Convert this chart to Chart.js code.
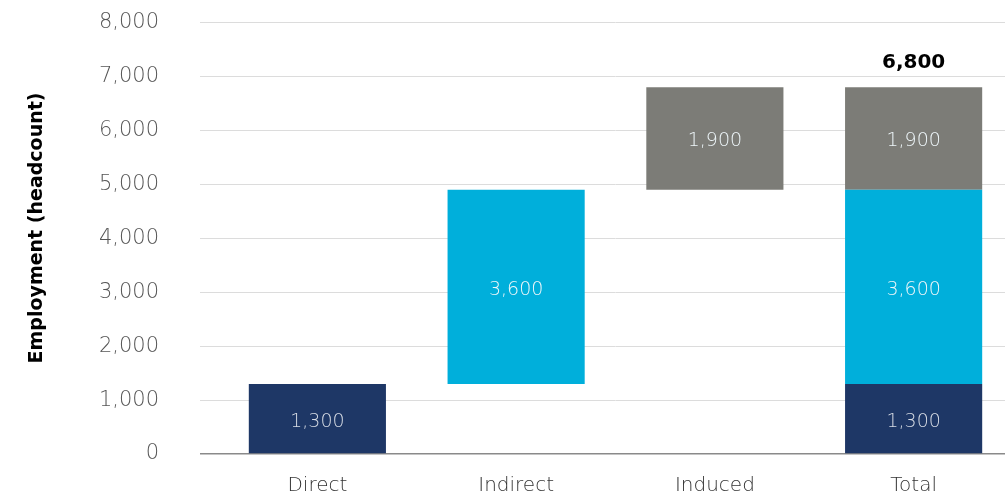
<!DOCTYPE html>
<html>
<head>
<meta charset="utf-8">
<script src="https://cdn.jsdelivr.net/npm/chart.js@4"></script>
<style>
    html, body { margin: 0; padding: 0; background: #fff; overflow: hidden; }
    #wrap { width: 1013px; height: 497px; }
</style>
</head>
<body>
<div id="wrap"><canvas id="impact-chart" width="1013" height="497"></canvas></div>
<script>
const categories = ['Direct', 'Indirect', 'Induced', 'Total'];
const directValues = [1300, null, null, 1300];
const indirectValues = [null, 3600, null, 3600];
const inducedValues = [null, null, 1900, 1900];
const totalValue = 6800;
const yTicks = [0, 1000, 2000, 3000, 4000, 5000, 6000, 7000, 8000];

const colors = {
    direct: '#1e3766',
    indirect: '#00afdb',
    induced: '#7c7c77'
};

const lightFont = 'DejaVu Sans';
const boldFont = 'DejaVu Sans';

const fmt = v => v.toLocaleString('en-US');

// floating bars: each segment starts where the previous one ended
function toRanges(values, starts) {
    return values.map((v, i) => v == null ? null : [starts[i], starts[i] + v]);
}
const zeros = categories.map(() => 0);
const indirectStarts = categories.map(() => directValues[3]);
const inducedStarts = categories.map(() => directValues[3] + indirectValues[3]);

const barLabels = {
    id: 'barLabels',
    afterDatasetsDraw(chart) {
        const ctx = chart.ctx;
        ctx.save();
        ctx.textAlign = 'center';
        ctx.textBaseline = 'middle';
        ctx.font = `200 19px "${lightFont}"`;
        chart.data.datasets.forEach((ds, di) => {
            const meta = chart.getDatasetMeta(di);
            meta.data.forEach((bar, i) => {
                const raw = ds.raw[i];
                if (raw == null) return;
                ctx.fillStyle = di === 0 ? '#d6dbe4' : '#eef6f9';
                ctx.fillText(fmt(raw), bar.x, (bar.y + bar.base) / 2 + 3);
            });
        });
        // total above the last bar
        const topMeta = chart.getDatasetMeta(2);
        const last = topMeta.data[categories.length - 1];
        ctx.font = `bold 20px "${boldFont}"`;
        ctx.fillStyle = '#000';
        ctx.fillText(fmt(totalValue), last.x, last.y - 24);

        // y axis title
        ctx.translate(37, 228);
        ctx.rotate(-Math.PI / 2);
        ctx.font = `bold 19px "${boldFont}"`;
        ctx.fillStyle = '#000';
        ctx.fillText('Employment (headcount)', 0, 0);
        ctx.restore();
    }
};

new Chart(document.getElementById('impact-chart'), {
    type: 'bar',
    data: {
        labels: categories,
        datasets: [
            { label: 'Direct', raw: directValues, data: toRanges(directValues, zeros), backgroundColor: colors.direct },
            { label: 'Indirect', raw: indirectValues, data: toRanges(indirectValues, indirectStarts), backgroundColor: colors.indirect },
            { label: 'Induced', raw: inducedValues, data: toRanges(inducedValues, inducedStarts), backgroundColor: colors.induced }
        ]
    },
    options: {
        responsive: false,
        animation: false,
        devicePixelRatio: 1,
        grouped: false,
        skipNull: true,
        categoryPercentage: 1,
        barPercentage: 0.69,
        layout: { padding: { top: 22.5, right: 0, left: 0, bottom: 0 } },
        plugins: {
            legend: { display: false },
            tooltip: { enabled: false }
        },
        scales: {
            x: {
                afterFit(scale) { scale.height = 43; },
                grid: { display: false },
                border: { display: false },
                ticks: {
                    color: '#333333',
                    font: { family: lightFont, size: 20, weight: '200' },
                    padding: 12
                }
            },
            y: {
                min: 0,
                max: 8000,
                afterFit(scale) {
                    scale.width = 218;
                    scale.paddingTop = 0;
                    scale.paddingBottom = 0;
                },
                afterBuildTicks(scale) { scale.ticks = yTicks.map(v => ({ value: v })); },
                border: { display: false },
                grid: {
                    color: c => c.tick && c.tick.value === 0 ? '#8a8a8a' : '#dcdcdc',
                    lineWidth: c => c.tick && c.tick.value === 0 ? 1.5 : 1,
                    tickLength: 18
                },
                ticks: {
                    color: '#555555',
                    padding: 41,
                    font: { family: lightFont, size: 21, weight: '200' },
                    callback: v => fmt(v)
                }
            }
        }
    },
    plugins: [barLabels]
});
</script>
</body>
</html>
